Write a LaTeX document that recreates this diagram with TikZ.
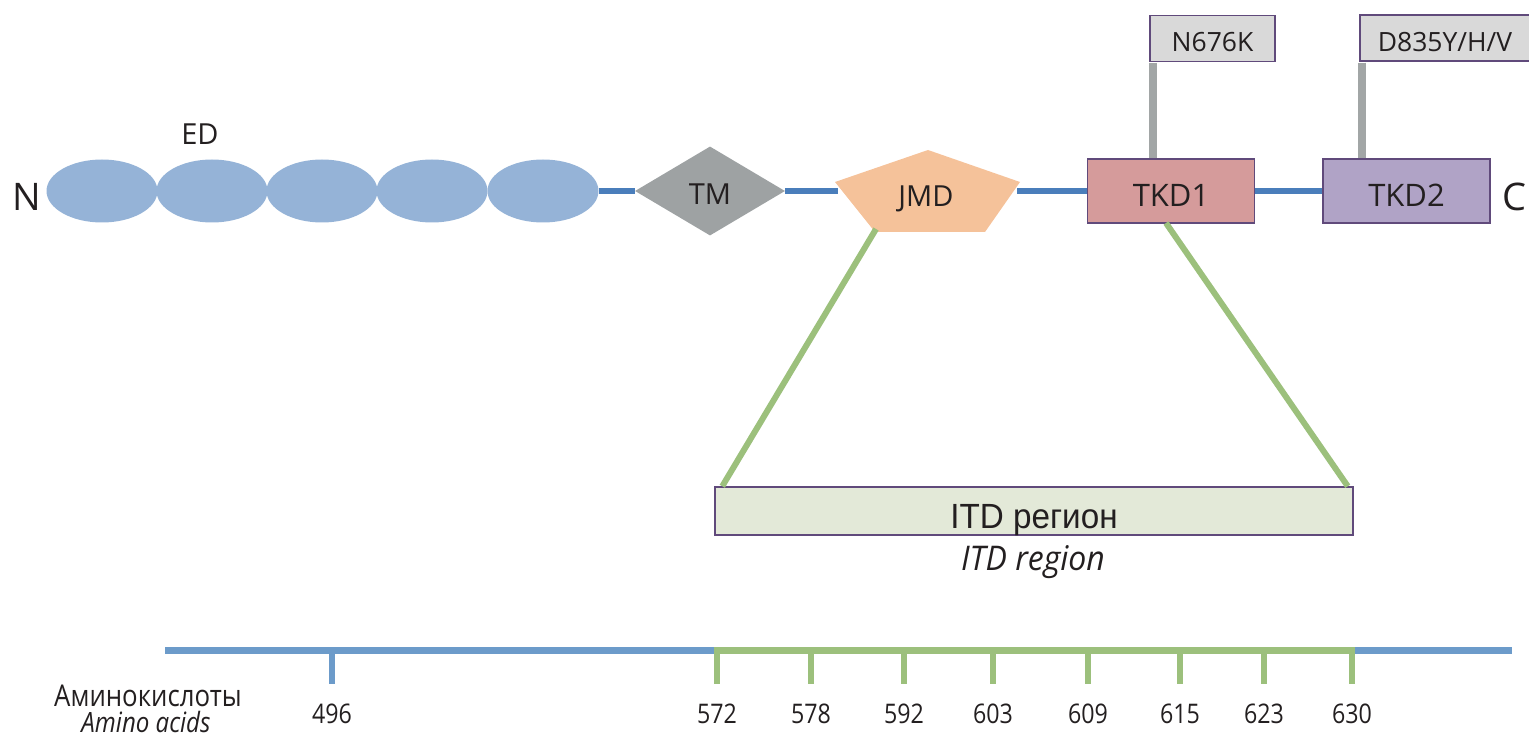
\documentclass[tikz,border=0pt]{standalone}
\usepackage{fontspec}
\setmainfont{Open Sans}
\newfontfamily\narrowfont[FakeStretch=0.86]{Open Sans}
\newfontfamily\semifont[FakeStretch=0.94]{Open Sans}
\newfontfamily\cyrfont[FakeStretch=0.95]{Liberation Sans}
\usetikzlibrary{shapes.geometric}

\definecolor{backbone}{HTML}{4A7EBB}
\definecolor{axisblue}{HTML}{6C9BCA}
\definecolor{edfill}{HTML}{95B3D7}
\definecolor{tmfill}{HTML}{9EA2A3}
\definecolor{jmdfill}{HTML}{F5C29A}
\definecolor{tkdone}{HTML}{D59B9B}
\definecolor{tkdtwo}{HTML}{B0A3C6}
\definecolor{boxline}{HTML}{604A7B}
\definecolor{mutfill}{HTML}{D9D9D9}
\definecolor{stem}{HTML}{A2A6A6}
\definecolor{itdfill}{HTML}{E3E9D8}
\definecolor{itdgreen}{HTML}{9CC07C}
\definecolor{ink}{HTML}{231F20}

\tikzset{
  x=1pt, y=-1pt,
  every node/.style={text=ink, inner sep=0pt},
  edblob/.style={ellipse, fill=edfill, minimum width=111pt, minimum height=63pt},
  kinase/.style={draw=boxline, line width=1.5pt, minimum width=167pt, minimum height=64pt,
    text height=32pt, text depth=0pt, font=\fontsize{31}{33}\selectfont},
  mutation/.style={draw=boxline, line width=1.5pt, fill=mutfill, minimum height=46pt,
    text height=27pt, text depth=0pt, font=\fontsize{26.5}{28}\selectfont},
  backboneline/.style={backbone, line width=6pt},
  stemline/.style={stem, line width=8pt},
  zoomline/.style={itdgreen, line width=6pt},
  axisline/.style={line width=7pt},
  axtick/.style={line width=6pt},
  numlabel/.style={font=\narrowfont\fontsize{27}{29}\selectfont},
  endlabel/.style={font=\fontsize{38}{40}\selectfont},
  dlabel/.style={font=\fontsize{29}{31}\selectfont},
}

\begin{document}
\begin{tikzpicture}
\useasboundingbox (0,0) rectangle (1529,738);

% extracellular domains
\foreach \i/\cx in {1/102,2/212,3/322,4/432,5/543}
  \node[edblob] (ed\i) at (\cx,191) {};
\node[dlabel] (edlabel) at (200,134) {ED};
\node[endlabel] (nterm) at (27,197) {N};

% transmembrane diamond
\node[diamond, fill=tmfill, minimum width=150pt, minimum height=89pt, aspect=1.69,
  text height=28pt, text depth=0pt, dlabel] (tm) at (710,191) {TM};

% juxtamembrane pentagon
\fill[jmdfill] (928,150) -- (1020,182) -- (985,232) -- (875,232) -- (835,182) -- cycle;
\node[dlabel, text depth=0pt] (jmd) at (926,196) {JMD};
\coordinate (jmdW) at (838,191);
\coordinate (jmdE) at (1017,191);
\coordinate (jmdSW) at (876,229);

% kinase domains
\node[kinase, fill=tkdone] (tkd1) at (1171,191) {TKD1};
\node[kinase, fill=tkdtwo] (tkd2) at (1406.5,191) {TKD2};
\node[endlabel] (cterm) at (1514,197) {C};
\coordinate (tkdS) at (1166,223);

% backbone segments
\draw[backboneline] (ed5.east) -- (tm.west);
\draw[backboneline] (tm.east) -- (jmdW);
\draw[backboneline] (jmdE) -- (tkd1.west);
\draw[backboneline] (tkd1.east) -- (tkd2.west);

% point mutations
\node[mutation, minimum width=125pt] (n676k) at (1212.5,38.5) {N676K};
\node[mutation, minimum width=170pt] (d835) at (1445,38) {D835Y/H/V};
\draw[stemline] (n676k.south west -| 1153,0) ++(0,1) -- (tkd1.north -| 1153,0);
\draw[stemline] (d835.south west -| 1362,0) ++(0,1) -- (tkd2.north -| 1362,0);

% ITD region
\node[draw=boxline, line width=1.5pt, fill=itdfill, minimum width=638pt, minimum height=48pt,
  text height=35pt, text depth=0pt,
  font=\cyrfont\fontsize{35}{37}\selectfont] (itd) at (1034,511) {ITD регион};
\node[font=\semifont\itshape\fontsize{34}{36}\selectfont] (itden) at (1033,562) {ITD region};
\draw[zoomline] (jmdSW) -- ([xshift=8pt]itd.north west);
\draw[zoomline] (tkdS) -- ([xshift=-6pt]itd.north east);

% amino-acid axis
\coordinate (ax0) at (165,650);
\coordinate (axA) at (714,650);
\coordinate (axB) at (1355,650);
\coordinate (ax1) at (1512,650);
\draw[axisline, axisblue] (ax0) -- (axA);
\draw[axisline, axisblue] (axB) -- (ax1);
\draw[axisblue, axtick] (332,650) -- (332,684) coordinate (t496);
\node[numlabel] (l496) at (332,714) {496};
\foreach \aa/\px in {572/717,578/811,592/904,603/993,609/1088,615/1180,623/1264,630/1352}{
  \draw[itdgreen, axtick] (\px,650) -- (\px,684) coordinate (t\aa);
  \node[numlabel] (l\aa) at (\px,714) {\aa};
}
\draw[axisline, itdgreen] (axA) -- (axB);
\node[font=\narrowfont\fontsize{30}{32}\selectfont] (aaru) at (148,696) {Аминокислоты};
\node[font=\narrowfont\itshape\fontsize{28}{30}\selectfont] (aaen) at (146,722) {Amino acids};
\end{tikzpicture}
\end{document}
